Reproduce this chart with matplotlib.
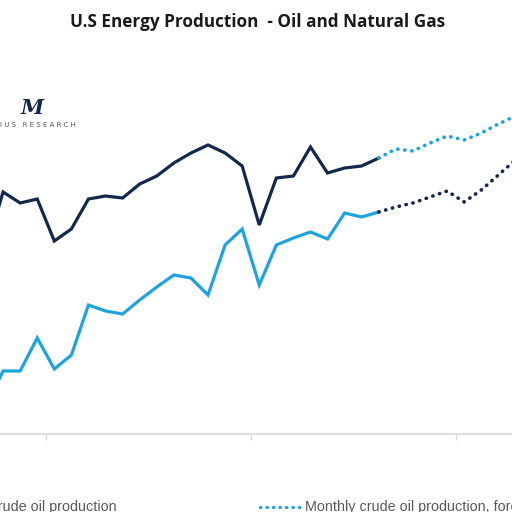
import numpy as np
import matplotlib
matplotlib.use("Agg")
import matplotlib.pyplot as plt
from matplotlib.lines import Line2D

# monthly index (the original chart is cropped on both sides)
months = np.arange(-1, 23)
oil = [9.2, 12.1, 11.55, 11.75, 9.65, 10.25, 11.75, 11.9, 11.8, 12.5, 12.9, 13.55,
       14.05, 14.45, 14.05, 13.4, 10.45, 12.8, 12.9, 14.35, 13.05, 13.3, 13.4, 13.8]
gas = [1.4, 3.15, 3.15, 4.8, 3.25, 3.95, 6.45, 6.15, 6.0, 6.7, 7.35, 7.95,
       7.8, 6.95, 9.45, 10.25, 7.45, 9.45, 9.8, 10.1, 9.75, 11.05, 10.85, 11.1]

fc_months = np.arange(22, 31)
oil_fc = [13.8, 14.25, 14.15, 14.55, 14.9, 14.7, 15.05, 15.5, 15.9]
gas_fc = [11.1, 11.35, 11.55, 11.85, 12.15, 11.6, 12.2, 12.95, 13.7]

year_ticks = [2.5, 14.5, 26.5]

navy = "#13284d"
sky = "#1fa3de"
dots = (0, (0.1, 1.85))

fig = plt.figure(figsize=(5.12, 5.12), dpi=100)
ax = fig.add_axes([0, 78 / 512, 1, 374 / 512])

ax.plot(months, oil, color=navy, lw=2.3, solid_joinstyle="miter")
ax.plot(months, gas, color=sky, lw=2.3, solid_joinstyle="miter")
ax.plot(fc_months, oil_fc, color=sky, lw=2.6, linestyle=dots, dash_capstyle="round")
ax.plot(fc_months, gas_fc, color=navy, lw=2.6, linestyle=dots, dash_capstyle="round")

ax.set_xlim(-0.18, 29.8)
ax.set_ylim(0, 18.7)
for s in ["left", "right", "top"]:
    ax.spines[s].set_visible(False)
ax.spines["bottom"].set_color("#d9d9d9")
ax.spines["bottom"].set_linewidth(1.2)
ax.set_yticks([])
ax.set_xticks(year_ticks)
ax.set_xticklabels([])
ax.tick_params(axis="x", length=4, width=1, color="#d9d9d9", direction="out")

fig.text(0.504, 0.958, "U.S Energy Production  - Oil and Natural Gas",
         ha="center", va="center", fontsize=12.3, fontweight="bold",
         family="Open Sans", color="#1a1a1a")

# logo
fig.text(32 / 512, 1 - 108 / 512, "M", ha="center", va="center", fontsize=15,
         fontweight="bold", style="italic", color=navy, family="DejaVu Serif")
fig.text(0.0, 1 - 125 / 512, "I U S   R E S E A R C H", ha="left", va="center",
         fontsize=5, color="#555555", family="DejaVu Sans")

# legend (cropped)
ly = 1 - 507 / 512
fig.add_artist(Line2D([-0.3, -0.2], [ly, ly], color=navy, lw=2.3,
                      transform=fig.transFigure))
fig.text(117 / 512, ly, "Monthly crude oil production", ha="right", va="center",
         fontsize=10.4, color="#595959", family="Liberation Sans")
fig.add_artist(Line2D([260 / 512, 300 / 512], [ly, ly], color=sky, lw=2.4,
                      linestyle=dots, dash_capstyle="round",
                      transform=fig.transFigure))
fig.text(305 / 512, ly, "Monthly crude oil production, forecast", ha="left",
         va="center", fontsize=10.4, color="#595959", family="Liberation Sans")

fig.savefig("out.png", dpi=100)
